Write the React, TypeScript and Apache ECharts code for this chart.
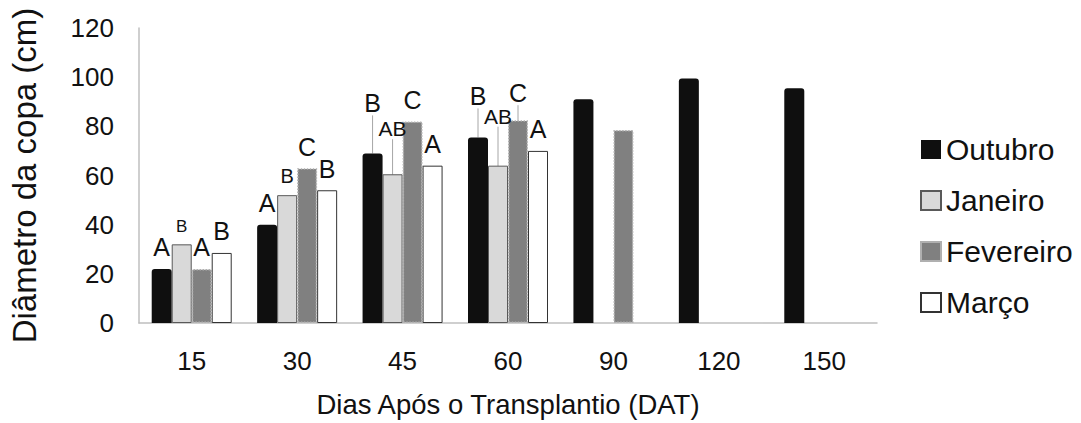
import React, { useEffect, useRef } from "react";
import * as echarts from "echarts";

const categories = ["15", "30", "45", "60", "90", "120", "150"];
const seriesNames = ["Outubro", "Janeiro", "Fevereiro", "Março"];
const outubro = [22, 40, 69, 75.5, 91, 99.5, 95.5];
const janeiro = [32, 52, 60.5, 64, null, null, null];
const fevereiro = [22, 63, 82, 82.5, 78.5, null, null];
const marco = [28.5, 54, 64, 70, null, null, null];
const lettersOut = ["A", "A", "B", "B", "", "", ""];
const lettersJan = ["B", "B", "AB", "AB", "", "", ""];
const lettersFev = ["A", "C", "C", "C", "", "", ""];
const lettersMar = ["B", "B", "A", "A", "", "", ""];
const yMin = 0;
const yMax = 120;
const yStep = 20;
const xTitle = "Dias Após o Transplantio (DAT)";
const yTitle = "Diâmetro da copa (cm)";

const FONT = "Liberation Sans, Arial, sans-serif";

function makeSeries(
  name: string,
  values: (number | null)[],
  letters: string[],
  fontSizes: number[],
  raise: number[],
  itemStyle: any
) {
  return {
    name,
    type: "bar",
    barWidth: 20,
    barGap: "0%",
    itemStyle,
    label: {
      show: true,
      position: "top",
      distance: 9,
      color: "#111",
      fontFamily: FONT,
      fontSize: 25,
    },
    labelLine: { show: false, lineStyle: { color: "#a6a6a6", width: 1 } },
    labelLayout: (p: any) =>
      raise[p.dataIndex] ? { dy: -raise[p.dataIndex] } : {},
    data: values.map((v, i) =>
      v == null
        ? "-"
        : {
            value: v,
            label: {
              show: letters[i] !== "",
              formatter: letters[i],
              fontSize: fontSizes[i],
            },
            labelLine: { show: raise[i] > 0 },
          }
    ),
  };
}

export default function App() {
  const ref = useRef<HTMLDivElement>(null);
  useEffect(() => {
    if (!ref.current) return;
    const chart = echarts.init(ref.current, null, { renderer: "svg" });
    chart.setOption({
      animation: false,
      textStyle: { fontFamily: FONT },
      grid: { left: 130, right: 204, top: 28, bottom: 97, containLabel: false },
      legend: {
        orient: "vertical",
        left: 915,
        top: 129,
        itemWidth: 20,
        itemHeight: 19,
        itemGap: 20,
        itemTextGap: 6,
        icon: "rect",
        data: seriesNames,
        textStyle: { fontSize: 30, color: "#111", fontFamily: FONT, lineHeight: 31 },
      },
      xAxis: {
        type: "category",
        data: categories,
        axisLine: { show: true, lineStyle: { color: "#bfbfbf", width: 1.5 } },
        axisTick: { show: false },
        axisLabel: { fontSize: 26, color: "#111", margin: 25, fontFamily: FONT },
        name: xTitle,
        nameLocation: "middle",
        nameGap: 67,
        nameTextStyle: { fontSize: 27.5, color: "#111", fontFamily: FONT },
      },
      yAxis: {
        type: "value",
        min: yMin,
        max: yMax,
        interval: yStep,
        axisLine: { show: true, lineStyle: { color: "#bfbfbf", width: 1.5 } },
        axisTick: { show: false },
        splitLine: { show: false },
        axisLabel: { fontSize: 26, color: "#111", margin: 25, fontFamily: FONT },
        name: yTitle,
        nameLocation: "middle",
        nameGap: 98,
        nameTextStyle: { fontSize: 33, color: "#111", fontFamily: FONT },
      },
      series: [
        makeSeries(seriesNames[0], outubro, lettersOut, [25, 25, 25, 25, 25, 25, 25], [0, 0, 29, 20, 0, 0, 0], {
          color: "#0f0f0f",
          borderRadius: [3, 3, 0, 0],
        }),
        makeSeries(seriesNames[1], janeiro, lettersJan, [17, 20, 21, 21, 21, 21, 21], [0, 0, 26, 30, 0, 0, 0], {
          color: "#d9d9d9",
          borderColor: "#595959",
          borderWidth: 1,
        }),
        makeSeries(seriesNames[2], fevereiro, lettersFev, [25, 25, 25, 25, 25, 25, 25], [0, 0, 0, 6, 0, 0, 0], {
          color: "#808080",
          borderColor: "#b0b0b0",
          borderWidth: 1.5,
          borderType: "dotted",
        }),
        makeSeries(seriesNames[3], marco, lettersMar, [25, 25, 25, 25, 25, 25, 25], [0, 0, 0, 0, 0, 0, 0], {
          color: "#ffffff",
          borderColor: "#333333",
          borderWidth: 1,
        }),
      ],
    });
    return () => chart.dispose();
  }, []);
  return <div ref={ref} style={{ width: 1081, height: 423, marginLeft: -8, marginTop: -8 }} />;
}
